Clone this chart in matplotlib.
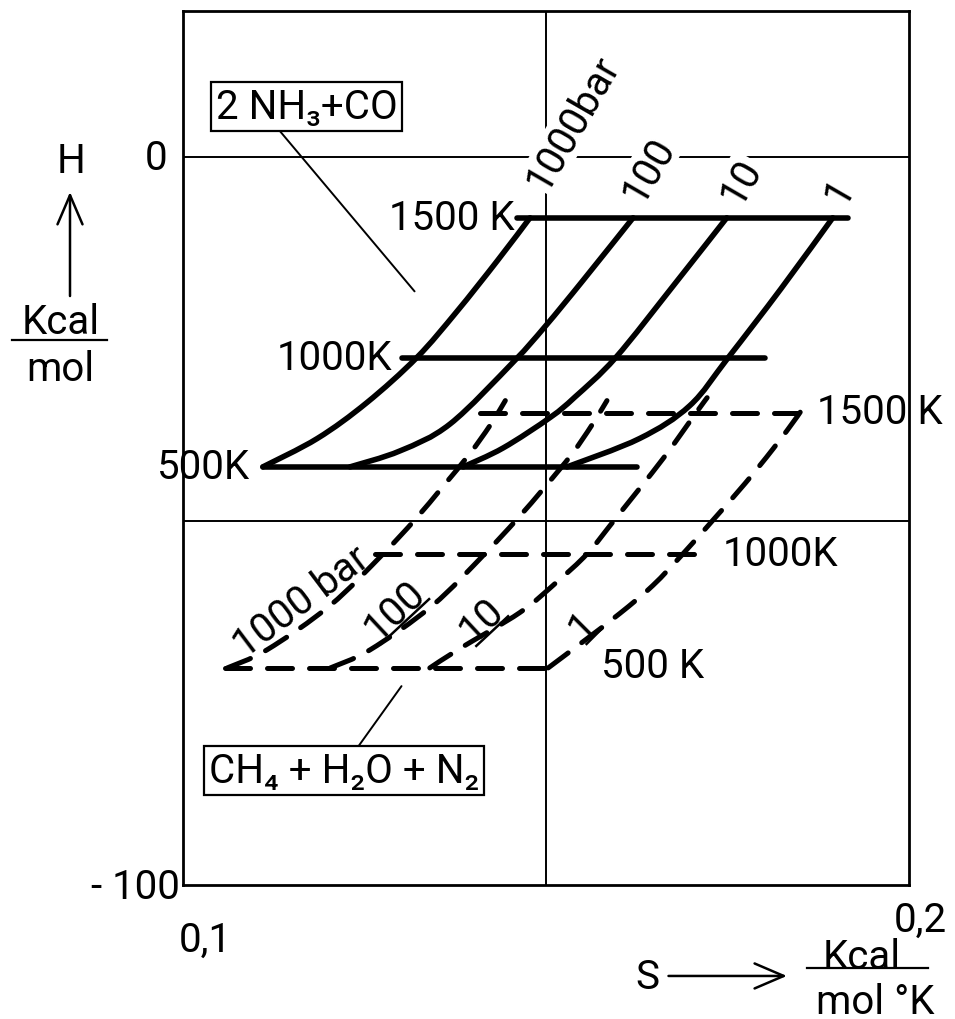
import matplotlib
matplotlib.use("Agg")
import matplotlib.pyplot as plt
from matplotlib.lines import Line2D
from matplotlib.path import Path
from matplotlib.patches import PathPatch
from matplotlib.transforms import Affine2D, ScaledTranslation

plt.rcParams['font.family'] = ['Roboto', 'DejaVu Sans']

# axis ranges, S in kcal/(mol K), H in kcal/mol
S_MIN, S_MAX = 0.1, 0.2
H_MIN, H_MAX = -100, 20
grid_S = [0.15]
grid_H = [0, -50]

pressure_labels = ['1000bar', '100', '10', '1']
temp_labels_nh3 = ['500K', '1000K', '1500 K']
temp_labels_ch4 = ['500 K', '1000K', '1500 K']

# 2 NH3 + CO : isotherms (H level, S start, S end)
nh3_iso_H = [-42.6, -27.6, -8.4]
nh3_iso_S0 = [0.1110, 0.1302, 0.1460]
nh3_iso_S1 = [0.1625, 0.1802, 0.1916]

# 2 NH3 + CO : isobars
nh3_1000_S = [0.1110, 0.1185, 0.1253, 0.1322, 0.1377, 0.1433, 0.1478]
nh3_1000_H = [-42.6, -38.7, -33.8, -27.6, -21.3, -14.3, -8.4]
nh3_100_S = [0.1230, 0.1299, 0.1368, 0.1455, 0.1499, 0.1551, 0.1620]
nh3_100_H = [-42.6, -40.4, -36.7, -28.2, -23.3, -17.0, -8.4]
nh3_10_S = [0.1386, 0.1441, 0.1506, 0.1540, 0.1596, 0.1678, 0.1749]
nh3_10_H = [-42.6, -40.0, -35.8, -33.0, -27.6, -17.4, -8.4]
nh3_1_S = [0.1529, 0.1629, 0.1698, 0.1751, 0.1824, 0.1895]
nh3_1_H = [-42.6, -38.7, -34.2, -27.6, -18.1, -8.4]

# CH4 + H2O + N2 : isotherms
ch4_iso_H = [-70.2, -54.5, -35.2]
ch4_iso_S0 = [0.1058, 0.1264, 0.1409]
ch4_iso_S1 = [0.1519, 0.1722, 0.1847]

# CH4 + H2O + N2 : isobars
ch4_1000_S = [0.1061, 0.1116, 0.1203, 0.1276, 0.1320, 0.1358, 0.1395, 0.1423, 0.1444]
ch4_1000_H = [-70.2, -67.7, -61.6, -54.5, -49.8, -45.3, -40.8, -36.9, -33.5]
ch4_100_S = [0.1203, 0.1258, 0.1344, 0.1416, 0.1460, 0.1499, 0.1536, 0.1563, 0.1584]
ch4_100_H = [-70.2, -67.7, -61.6, -54.5, -49.8, -45.3, -40.8, -36.9, -33.5]
ch4_10_S = [0.1340, 0.1382, 0.1464, 0.1515, 0.1557, 0.1595, 0.1661, 0.1708, 0.1722]
ch4_10_H = [-70.2, -67.5, -62.6, -58.4, -54.5, -49.8, -41.5, -35.0, -33.1]
ch4_1_S = [0.1503, 0.1551, 0.1602, 0.1647, 0.1689, 0.1731, 0.1774, 0.1813, 0.1846, 0.1860]
ch4_1_H = [-70.2, -66.6, -62.7, -58.9, -54.5, -49.8, -44.9, -40.1, -35.7, -33.6]

FS = 29


# smooth bezier path through the read points (catmull-rom tangents)
def smoothPath(sv, hv):
    pts = list(zip(sv, hv))
    verts = [pts[0]]
    codes = [Path.MOVETO]
    for i in range(len(pts) - 1):
        p0 = pts[i - 1] if i > 0 else pts[i]
        p1, p2 = pts[i], pts[i + 1]
        p3 = pts[i + 2] if i + 2 < len(pts) else p2
        c1 = (p1[0] + (p2[0] - p0[0]) / 6, p1[1] + (p2[1] - p0[1]) / 6)
        c2 = (p2[0] - (p3[0] - p1[0]) / 6, p2[1] - (p3[1] - p1[1]) / 6)
        verts += [c1, c2, p2]
        codes += [Path.CURVE4] * 3
    return Path(verts, codes)


# underline for a rotated label, drawn in the label's own frame (points)
def addUnderline(ax, anchor, off, rot, nchar):
    w = nchar * 0.54 * FS
    d = 0.40 * FS
    tr = (Affine2D().rotate_deg(rot).translate(*off).scale(1 / 72.)
          + ax.figure.dpi_scale_trans
          + ScaledTranslation(anchor[0], anchor[1], ax.transData))
    ax.add_artist(Line2D([-w / 2, w / 2], [-d, -d], transform=tr,
                         color='k', lw=1.8, zorder=5))


fig = plt.figure(figsize=(9.55, 10.2), dpi=100)
ax = fig.add_axes([0.1916, 0.1314, 0.7602, 0.8569])
ax.set_xlim(S_MIN, S_MAX)
ax.set_ylim(H_MIN, H_MAX)
ax.set_xticks([])
ax.set_yticks([])
for sp in ax.spines.values():
    sp.set_linewidth(2.0)

for h in grid_H:
    ax.axhline(h, color='k', lw=1.4, zorder=1)
for s in grid_S:
    ax.axvline(s, color='k', lw=1.4, zorder=1)

solid = dict(color='k', lw=4.0, solid_capstyle='round', zorder=3)
dashed = dict(color='k', lw=3.6, linestyle=(0, (5, 3.4)), dash_capstyle='round', zorder=3)
solid_p = dict(fill=False, edgecolor='k', lw=4.0, capstyle='round', joinstyle='round', zorder=3)
dashed_p = dict(fill=False, edgecolor='k', lw=3.6, linestyle=(0, (5, 3.4)),
                capstyle='round', joinstyle='round', zorder=3)

# 2 NH3 + CO
for h, s0, s1 in zip(nh3_iso_H, nh3_iso_S0, nh3_iso_S1):
    ax.plot([s0, s1], [h, h], **solid)
nh3_curves = [(nh3_1000_S, nh3_1000_H), (nh3_100_S, nh3_100_H),
              (nh3_10_S, nh3_10_H), (nh3_1_S, nh3_1_H)]
for sv, hv in nh3_curves:
    ax.add_patch(PathPatch(smoothPath(sv, hv), **solid_p))

# CH4 + H2O + N2
for h, s0, s1 in zip(ch4_iso_H, ch4_iso_S0, ch4_iso_S1):
    ax.plot([s0, s1], [h, h], **dashed)
ch4_curves = [(ch4_1000_S, ch4_1000_H), (ch4_100_S, ch4_100_H),
              (ch4_10_S, ch4_10_H), (ch4_1_S, ch4_1_H)]
for sv, hv in ch4_curves:
    ax.add_patch(PathPatch(smoothPath(sv, hv), **dashed_p))

# isotherm labels
nh3_temp_off = [(-9, 0), (-7, 0), (-1.5, 0)]
for lab, h, s0, off in zip(temp_labels_nh3, nh3_iso_H, nh3_iso_S0, nh3_temp_off):
    ax.annotate(lab, (s0, h), xytext=off, textcoords='offset points',
                ha='right', va='center', fontsize=FS, zorder=5)
ch4_temp_off = [(30, 2), (11, 0), (14, 1)]
for lab, h, s1, off in zip(temp_labels_ch4, ch4_iso_H, ch4_iso_S1, ch4_temp_off):
    ax.annotate(lab, (s1, h), xytext=off, textcoords='offset points',
                ha='left', va='center', fontsize=FS, zorder=5)

# isobar labels at the top ends of the solid curves
nh3_p_off = [(31, 69), (11, 35), (10, 27), (5, 20)]
for lab, (sv, hv), off in zip(pressure_labels, nh3_curves, nh3_p_off):
    ax.annotate(lab, (sv[-1], hv[-1]), xytext=off, textcoords='offset points',
                ha='center', va='center', rotation=60, rotation_mode='anchor',
                fontsize=FS, zorder=5,
                bbox=dict(fc='white', ec='none', pad=1))

# isobar labels at the low ends of the dashed curves, underlined except 1000 bar
ch4_p_labels = ['1000 bar'] + pressure_labels[1:]
ch4_p_off = [(53, 48), (46, 42), (37, 35), (25, 31)]
ch4_p_rot = [37, 43, 43, 45]
for i, (lab, (sv, hv), off, rot) in enumerate(zip(ch4_p_labels, ch4_curves, ch4_p_off, ch4_p_rot)):
    ax.annotate(lab, (sv[0], hv[0]), xytext=off, textcoords='offset points',
                ha='center', va='center', rotation=rot, rotation_mode='anchor',
                fontsize=FS, zorder=5)
    if i > 0:
        addUnderline(ax, (sv[0], hv[0]), off, rot, len(lab))

# boxed names with leader lines
box = dict(boxstyle='square,pad=0.12', fc='white', ec='k', lw=1.6)
ax.annotate('2 NH\u2083+CO', xy=(0.1319, -18.5), xytext=(0.1170, 6.9),
            ha='center', va='center', fontsize=FS, bbox=box,
            arrowprops=dict(arrowstyle='-', lw=1.4, color='k', relpos=(0.33, 0),
                            shrinkA=0, shrinkB=0))
ax.annotate('CH\u2084 + H\u2082O + N\u2082', xy=(0.1301, -72.7), xytext=(0.1222, -84.3),
            ha='center', va='center', fontsize=FS, bbox=box,
            arrowprops=dict(arrowstyle='-', lw=1.4, color='k', relpos=(0.54, 1),
                            shrinkA=0, shrinkB=0))

# tick values
ax.annotate('0', (S_MIN, 0), xytext=(-11.5, -1), textcoords='offset points',
            ha='right', va='center', fontsize=FS, annotation_clip=False)
ax.annotate('- 100', (S_MIN, H_MIN), xytext=(-2, -1), textcoords='offset points',
            ha='right', va='center', fontsize=FS, annotation_clip=False)
ax.annotate('0,1', (S_MIN, H_MIN), xytext=(16, -39), textcoords='offset points',
            ha='center', va='center', fontsize=FS, annotation_clip=False)
ax.annotate('0,2', (S_MAX, H_MIN), xytext=(8, -25), textcoords='offset points',
            ha='center', va='center', fontsize=FS, annotation_clip=False)

# axis names and units
arrow = dict(arrowstyle='->,head_length=0.7,head_width=0.3',
             lw=1.8, color='k', mutation_scale=30, shrinkA=0, shrinkB=0)
fig.text(0.0743, 0.8412, 'H', ha='center', va='center', fontsize=FS)
fig.text(0.0639, 0.6843, 'Kcal', ha='center', va='center', fontsize=FS)
fig.text(0.0628, 0.6382, 'mol', ha='center', va='center', fontsize=FS)
fig.add_artist(Line2D([12 / 955, 107 / 955], [0.6657, 0.6657], color='k', lw=1.6))
ax.annotate('', xy=(0.0733, 0.8108), xycoords='figure fraction',
            xytext=(0.0733, 0.7088), textcoords='figure fraction', arrowprops=arrow)

fig.text(0.6775, 0.0412, 'S', ha='center', va='center', fontsize=FS)
ax.annotate('', xy=(0.824, 0.0422), xycoords='figure fraction',
            xytext=(0.700, 0.0422), textcoords='figure fraction', arrowprops=arrow)
fig.text(0.9026, 0.0608, 'Kcal', ha='center', va='center', fontsize=FS)
fig.text(0.9162, 0.0176, 'mol \u00b0K', ha='center', va='center', fontsize=FS)
fig.add_artist(Line2D([807 / 955, 928 / 955], [0.050, 0.050], color='k', lw=1.6))

fig.savefig('out.png', dpi=100)
